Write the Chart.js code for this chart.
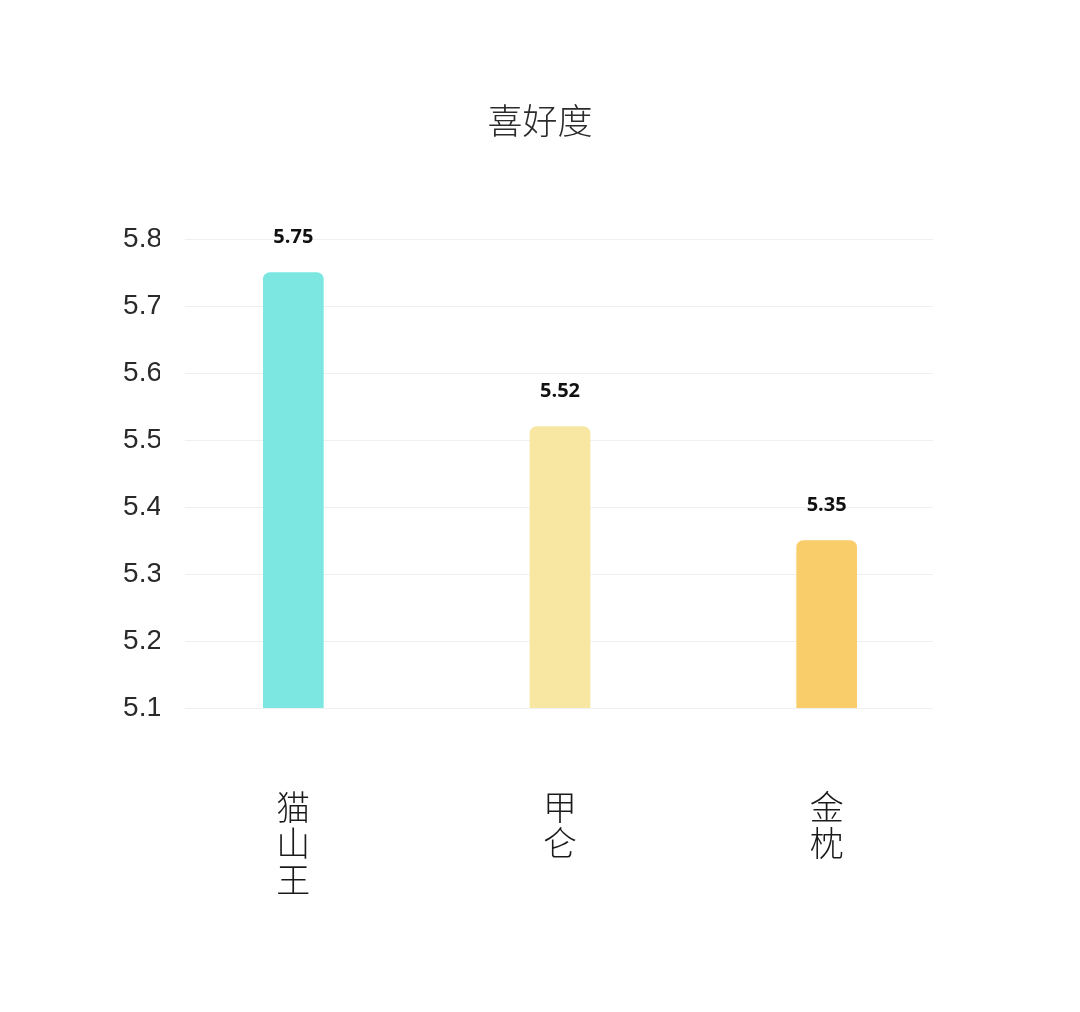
<!DOCTYPE html>
<html>
<head>
<meta charset="utf-8">
<script src="https://cdn.jsdelivr.net/npm/chart.js@4.4.1/dist/chart.umd.min.js"></script>
<style>
  html, body { margin: 0; padding: 0; background: #ffffff; }
  #wrap { width: 1080px; height: 1012px; position: relative; }
</style>
</head>
<body>
<div id="wrap"><canvas id="c" width="1080" height="1012"></canvas></div>
<script>
const chartTitle = '喜好度';
const categories = [['猫', '山', '王'], ['甲', '仑'], ['金', '枕']];
const values = [5.75, 5.52, 5.35];
const barColors = ['#7BE7E0', '#F8E7A2', '#F9CD6A'];
const yMin = 5.1;
const yMax = 5.8;
const yStep = 0.1;

const cjk = '"Noto Sans CJK SC", "Noto Sans", sans-serif';

const gridPlugin = {
  id: 'customGrid',
  beforeDatasetsDraw(chart) {
    const { ctx } = chart;
    const y = chart.scales.y;
    ctx.save();
    ctx.strokeStyle = '#efefef';
    ctx.lineWidth = 1;
    y.ticks.forEach(t => {
      const py = Math.round(y.getPixelForValue(t.value)) + 0.5;
      ctx.beginPath();
      ctx.moveTo(185, py);
      ctx.lineTo(933, py);
      ctx.stroke();
    });
    ctx.restore();
  }
};

const titleAndLabels = {
  id: 'titleAndLabels',
  afterDatasetsDraw(chart) {
    const { ctx } = chart;
    ctx.save();
    ctx.fillStyle = '#2b2b2b';
    ctx.font = '300 35px ' + cjk;
    ctx.textAlign = 'center';
    ctx.textBaseline = 'middle';
    ctx.fillText(chartTitle, 540, 121);
    const meta = chart.getDatasetMeta(0);
    ctx.fillStyle = '#111111';
    ctx.font = 'bold 20px "Open Sans", "Noto Sans", sans-serif';
    meta.data.forEach((bar, i) => {
      ctx.fillText(values[i].toFixed(2), bar.x, bar.y - 35);
    });
    ctx.restore();
  }
};

new Chart(document.getElementById('c'), {
  type: 'bar',
  data: {
    labels: categories,
    datasets: [{
      data: values,
      backgroundColor: barColors,
      borderRadius: { topLeft: 7, topRight: 7, bottomLeft: 0, bottomRight: 0 },
      borderSkipped: false,
      barThickness: 60
    }]
  },
  options: {
    responsive: false,
    animation: false,
    devicePixelRatio: 1,
    layout: { padding: { top: 239, right: 120, bottom: 0, left: 0 } },
    plugins: { legend: { display: false }, tooltip: { enabled: false }, title: { display: false } },
    scales: {
      x: {
        grid: { display: false },
        border: { display: false },
        ticks: {
          color: '#1a1a1a',
          font: { family: cjk, size: 34, weight: '300', lineHeight: 1.07 },
          padding: 73,
          maxRotation: 0,
          autoSkip: false
        },
        afterFit(scale) { scale.height = 304; }
      },
      y: {
        min: yMin,
        max: yMax,
        grid: { display: false },
        border: { display: false },
        ticks: {
          stepSize: yStep,
          color: '#2a2a2a',
          font: { family: '"Liberation Sans", Arial, sans-serif', size: 28 },
          padding: -10,
          callback: v => Number(v).toFixed(1)
        },
        afterFit(scale) { scale.width = 160; }
      }
    }
  },
  plugins: [gridPlugin, titleAndLabels]
});
</script>
</body>
</html>
